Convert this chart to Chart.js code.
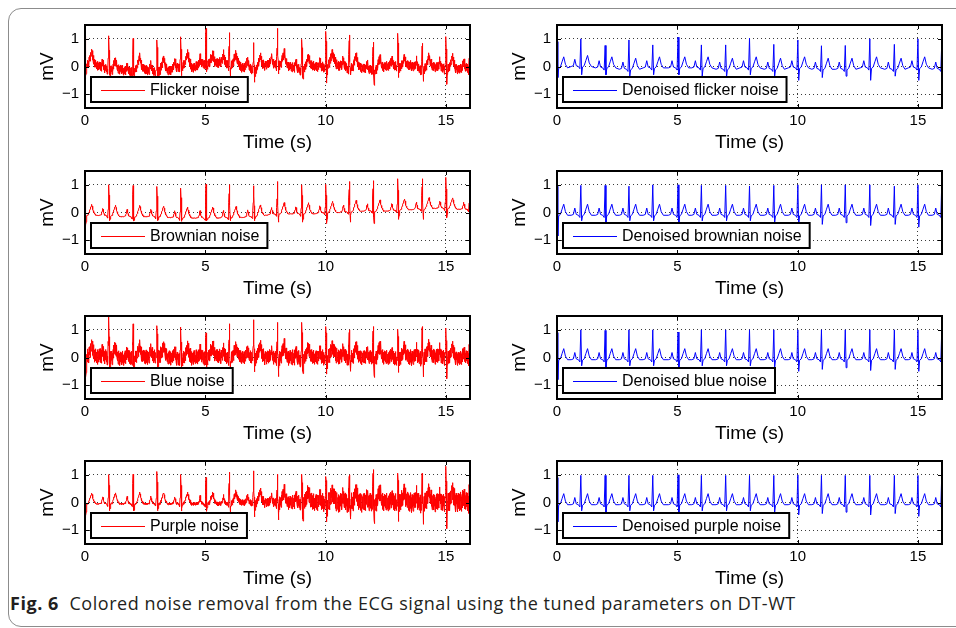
<!DOCTYPE html>
<html>
<head>
<meta charset="utf-8">
<script src="https://cdn.jsdelivr.net/npm/chart.js@4.4.1/dist/chart.umd.min.js"></script>
<style>
  body { margin: 0; background: #fff; width: 956px; height: 628px; overflow: hidden; position: relative; }
  .frame { position: absolute; left: 8px; top: 8px; width: 990px; height: 619px; border: 1.5px solid #8c8c8c; border-radius: 13px; box-sizing: border-box; }
  canvas { position: absolute; }
  .caption { position: absolute; left: 10px; top: 591px; font-family: "Open Sans", sans-serif; font-size: 18px; letter-spacing: 0.55px; color: #231f20; white-space: nowrap; }
</style>
</head>
<body>
<div class="frame"></div>
<canvas id="c0" width="460" height="139"></canvas>
<canvas id="c1" width="460" height="139"></canvas>
<canvas id="c2" width="460" height="139"></canvas>
<canvas id="c3" width="460" height="139"></canvas>
<canvas id="c4" width="460" height="139"></canvas>
<canvas id="c5" width="460" height="139"></canvas>
<canvas id="c6" width="460" height="139"></canvas>
<canvas id="c7" width="460" height="139"></canvas>
<div class="caption"><b>Fig. 6</b>&nbsp; Colored noise removal from the ECG signal using the tuned parameters on DT-WT</div>
<script>
const xTicks = [0, 5, 10, 15];
const yTicks = [-1, 0, 1];

// R-peak times (s)
const beatTimes = [0.0, 0.99, 2.0, 2.99, 3.98, 5.03, 6.0, 7.01, 8.0, 9.01, 10.01, 10.99, 11.98, 13.0, 14.02, 15.0, 15.99];

// one heartbeat around the R peak: offset (s) and value (mV above baseline)
const beatOffsets = [-0.40, -0.31, -0.25, -0.19, -0.10, -0.04, 0.0, 0.035, 0.07, 0.14, 0.21, 0.28, 0.35, 0.44];
const beatShape   = [0.0, 0.03, 0.26, 0.03, 0.0, -0.08, 1.0, -0.35, -0.02, 0.03, 0.22, 0.4, 0.13, 0.0];
const R_AT = 6, S_AT = 7;

// hand-typed noise wiggle, one value every 0.01 s
const noisePattern = [0.6, -0.4, 0.9, -0.8, 0.2, -0.1, 0.7, -0.9, 0.4, -0.3, 1.0, -0.6, 0.1, -0.7, 0.5, 0.3, -1.0, 0.8, -0.2, 0.0,
  0.6, -0.5, -0.9, 0.7, 0.2, -0.4, 0.9, -0.1, -0.6, 0.4, 0.8, -0.8, 0.3, -0.2, -0.5, 1.0, -0.7, 0.1, 0.5, -0.3, -0.9,
  0.3, 0.7, -0.6, 0.0, 0.9, -0.2, -0.8, 0.5, 0.1, -0.4, 0.8, -1.0, 0.4, 0.2, -0.6, 0.6, -0.1, -0.7, 0.9, -0.3];

// ---- noisy signals (left column) ----
const flickerPeaks = [1.0, 1.02, 0.88, 0.96, 1.02, 1.32, 1.08, 0.72, 1.38, 0.98, 1.27, 1.14, 0.88, 1.2, 0.84, 1.08, 1.0];
const flickerDips = [-0.45, -0.3, -0.3, -0.35, -0.25, -0.2, -0.3, -0.55, -0.2, -0.4, -0.6, -0.3, -0.65, -0.4, -0.45, -0.55, -0.3];
// baseline every 0.25 s
const flickerWander = [0.0, 0.12, 0.05, -0.08, -0.1, -0.18, -0.1, -0.22, -0.15, -0.05, -0.12, -0.18, -0.2, -0.1, -0.15, -0.05,
  0.0, 0.08, -0.05, 0.05, 0.12, 0.05, 0.12, 0.18, 0.05, 0.08, -0.05, 0.0, -0.12, -0.05, 0.05, 0.12,
  0.05, 0.08, 0.0, -0.08, -0.12, -0.05, 0.02, -0.05, 0.0, 0.12, 0.05, 0.0, -0.08, 0.0, -0.05, -0.12,
  -0.12, -0.1, 0.0, 0.05, 0.0, -0.08, 0.05, -0.05, -0.12, -0.05, 0.0, -0.05, -0.08, -0.05, -0.12, -0.05, -0.1];
// noise amplitude per second
const flickerNoise = [0.18, 0.18, 0.17, 0.18, 0.18, 0.19, 0.18, 0.18, 0.18, 0.18, 0.19, 0.18, 0.18, 0.18, 0.18, 0.18, 0.18];

const brownianPeaks = [0.95, 1.0, 0.97, 0.94, 0.88, 1.02, 1.0, 0.96, 1.12, 1.0, 1.02, 1.12, 1.15, 1.22, 1.22, 1.27, 1.27];
const brownianDips = [-0.5, -0.3, -0.3, -0.3, -0.32, -0.3, -0.3, -0.3, -0.35, -0.35, -0.4, -0.35, -0.4, -0.25, -0.25, -0.2, -0.1];
// baseline every 0.5 s
const brownianWander = [-0.1, -0.1, -0.12, -0.15, -0.15, -0.15, -0.15, -0.18, -0.2, -0.2, -0.2, -0.2, -0.18, -0.18, -0.15, -0.1,
  -0.05, -0.05, -0.05, -0.05, 0.0, 0.0, 0.02, 0.05, 0.05, 0.05, 0.08, 0.1, 0.12, 0.15, 0.15, 0.12, 0.1];
const brownianNoise = [0.008, 0.008, 0.008, 0.008, 0.008, 0.008, 0.008, 0.008, 0.008, 0.008, 0.008, 0.008, 0.008, 0.008, 0.008, 0.008, 0.008];

const blueNPeaks = [0.3, 1.35, 1.0, 1.15, 1.02, 0.81, 1.02, 1.15, 1.27, 1.27, 1.12, 1.0, 1.12, 1.02, 1.12, 1.06, 1.06];
const blueNDips = [-0.9, -0.45, -0.4, -0.45, -0.4, -0.45, -0.5, -0.45, -0.6, -0.5, -0.6, -0.5, -0.65, -0.5, -0.55, -0.6, -0.45];
const blueNWander = [0.0, 0.05, 0.0, -0.05, 0.0, 0.0, 0.05, 0.0, -0.05, 0.0, 0.0, 0.05, 0.0, 0.0, 0.05, 0.0,
  0.0, 0.0, -0.05, 0.0, 0.0, 0.05, 0.0, 0.0, 0.0, 0.0, -0.05, 0.0, 0.0, 0.05, 0.0, -0.05, 0.0];
const blueNNoise = [0.3, 0.28, 0.27, 0.27, 0.28, 0.27, 0.25, 0.27, 0.29, 0.27, 0.29, 0.27, 0.27, 0.29, 0.29, 0.27, 0.29];

const purplePeaks = [0.85, 1.0, 1.0, 1.12, 1.0, 0.88, 1.0, 1.0, 1.02, 1.02, 0.94, 1.0, 1.19, 1.06, 1.02, 1.31, 1.31];
const purpleDips = [-0.55, -0.3, -0.3, -0.3, -0.3, -0.32, -0.35, -0.5, -0.55, -0.6, -0.7, -0.6, -0.65, -0.6, -0.6, -0.7, -0.5];
const purpleWander = [-0.05, -0.05, -0.05, -0.05, -0.05, -0.05, -0.05, -0.05, -0.05, -0.05, -0.05, -0.05, -0.03, 0.0, 0.0, 0.0,
  0.0, 0.0, 0.0, 0.0, 0.0, 0.0, 0.0, 0.0, 0.0, 0.0, 0.0, 0.0, 0.0, 0.0, 0.0, 0.0, 0.0];
const purpleNoise = [0.02, 0.03, 0.03, 0.04, 0.06, 0.08, 0.12, 0.18, 0.26, 0.32, 0.36, 0.36, 0.34, 0.36, 0.34, 0.38, 0.38];

// ---- denoised signals (right column), one baseline value per beat ----
const dFlickerPeaks = [0.9, 1.0, 0.76, 0.96, 0.78, 1.06, 0.78, 0.78, 1.02, 0.8, 0.96, 0.75, 0.76, 1.0, 0.8, 1.0, 0.85];
const dFlickerDips = [-0.4, -0.3, -0.3, -0.35, -0.3, -0.3, -0.35, -0.4, -0.3, -0.35, -0.5, -0.4, -0.35, -0.5, -0.35, -0.5, -0.3];
const dFlickerBase = [-0.05, 0.0, -0.05, -0.1, -0.05, -0.05, -0.05, -0.1, -0.05, -0.1, -0.05, -0.1, -0.1, -0.05, -0.1, -0.05, -0.1];

const dBrownianPeaks = [0.95, 0.98, 0.98, 0.95, 1.0, 1.0, 0.98, 0.98, 0.96, 0.98, 1.0, 1.0, 1.0, 1.0, 0.95, 1.0, 1.05];
const dBrownianDips = [-0.85, -0.3, -0.35, -0.3, -0.3, -0.37, -0.3, -0.3, -0.3, -0.37, -0.5, -0.43, -0.37, -0.47, -0.43, -0.53, -0.2];
const dBrownianBase = [-0.1, -0.1, -0.1, -0.1, -0.1, -0.1, -0.1, -0.1, -0.1, -0.1, -0.1, -0.1, -0.1, -0.1, -0.1, -0.1, -0.1];

const dBluePeaks = [0.9, 1.0, 0.98, 1.0, 1.0, 0.92, 1.0, 1.0, 1.0, 1.0, 1.0, 1.0, 1.0, 1.0, 1.0, 1.0, 1.0];
const dBlueDips = [-0.8, -0.3, -0.35, -0.3, -0.3, -0.37, -0.3, -0.3, -0.3, -0.37, -0.5, -0.43, -0.37, -0.47, -0.43, -0.5, -0.2];
const dBlueBase = [-0.08, -0.08, -0.08, -0.08, -0.08, -0.08, -0.08, -0.08, -0.08, -0.08, -0.08, -0.08, -0.08, -0.08, -0.08, -0.08, -0.08];

const dPurplePeaks = [0.9, 0.98, 0.98, 0.98, 0.98, 1.0, 0.98, 0.98, 0.98, 0.98, 1.0, 0.98, 0.98, 0.98, 0.98, 0.98, 1.0];
const dPurpleDips = [-0.7, -0.3, -0.35, -0.3, -0.3, -0.35, -0.3, -0.3, -0.3, -0.35, -0.45, -0.4, -0.35, -0.45, -0.4, -0.5, -0.2];
const dPurpleBase = [-0.08, -0.08, -0.08, -0.08, -0.08, -0.08, -0.08, -0.08, -0.08, -0.08, -0.08, -0.08, -0.08, -0.08, -0.08, -0.08, -0.08];

const RED = "#ff0000";
const BLUE = "#0000ff";
const FONT = "'Liberation Sans', Arial, sans-serif";
Chart.defaults.font.family = FONT;

function shapeValue(j, peak, dip, base) {
  if (j === R_AT) return peak - base;
  if (j === S_AT) return dip - base;
  return beatShape[j];
}

function wanderAt(t, arr, step) {
  const p = t / step;
  const i = Math.min(arr.length - 2, Math.floor(p));
  const f = p - i;
  return arr[i] + (arr[i + 1] - arr[i]) * f;
}

function beatAt(t, k, peak, dip, base) {
  const dt = t - beatTimes[k];
  const last = beatOffsets.length - 1;
  if (dt < beatOffsets[0] || dt > beatOffsets[last]) return 0;
  for (let j = 1; j <= last; j++) {
    if (dt <= beatOffsets[j]) {
      const a = shapeValue(j - 1, peak, dip, base);
      const b = shapeValue(j, peak, dip, base);
      const f = (dt - beatOffsets[j - 1]) / (beatOffsets[j] - beatOffsets[j - 1]);
      return a + (b - a) * f;
    }
  }
  return 0;
}

function noisySeries(peaks, dips, wander, step, amp) {
  const pts = [];
  for (let i = 0; i <= 1600; i++) {
    const t = i * 0.01;
    const w = wanderAt(t, wander, step);
    let ecg = 0;
    beatTimes.forEach((bt, k) => {
      const wb = wanderAt(Math.min(16, Math.max(0, bt)), wander, step);
      ecg += beatAt(t, k, peaks[k], dips[k], wb);
    });
    const a = amp[Math.min(amp.length - 1, Math.floor(t))];
    pts.push({ x: t, y: w + ecg + noisePattern[i % noisePattern.length] * a });
  }
  beatTimes.forEach((bt, k) => {
    pts.push({ x: bt, y: peaks[k] });
    pts.push({ x: bt + beatOffsets[S_AT], y: dips[k] });
  });
  pts.sort((p, q) => p.x - q.x);
  return pts;
}

function cleanSeries(peaks, dips, base) {
  const pts = [];
  beatTimes.forEach((bt, k) => {
    beatOffsets.forEach((off, j) => {
      pts.push({ x: bt + off, y: base[k] + shapeValue(j, peaks[k], dips[k], base[k]) });
    });
  });
  return pts;
}

// axes box, inward tick marks and boxed legend in the lower left corner
const framePlugin = {
  id: "frameBox",
  afterDatasetsDraw(chart, args, opts) {
    const { ctx, chartArea: a, scales } = chart;
    ctx.save();
    ctx.strokeStyle = "#000";
    ctx.lineWidth = 1;
    ctx.beginPath();
    xTicks.forEach(v => {
      const px = Math.round(scales.x.getPixelForValue(v)) + 0.5;
      ctx.moveTo(px, a.bottom); ctx.lineTo(px, a.bottom - 4);
      ctx.moveTo(px, a.top); ctx.lineTo(px, a.top + 4);
    });
    yTicks.forEach(v => {
      const py = Math.round(scales.y.getPixelForValue(v)) + 0.5;
      ctx.moveTo(a.left, py); ctx.lineTo(a.left + 4, py);
      ctx.moveTo(a.right, py); ctx.lineTo(a.right - 4, py);
    });
    ctx.stroke();
    ctx.lineWidth = 2;
    ctx.strokeRect(a.left, a.top, a.right - a.left, a.bottom - a.top);

    ctx.font = "16px " + FONT;
    const tw = ctx.measureText(opts.label).width;
    const bx = a.left + 6, bh = 25, by = a.bottom - 6 - bh;
    const bw = 10 + 44 + 5 + tw + 8;
    ctx.fillStyle = "#fff";
    ctx.fillRect(bx, by, bw, bh);
    ctx.strokeRect(bx, by, bw, bh);
    const my = by + bh / 2;
    ctx.strokeStyle = opts.color;
    ctx.lineWidth = 1;
    ctx.beginPath();
    ctx.moveTo(bx + 10, Math.round(my) + 0.5);
    ctx.lineTo(bx + 54, Math.round(my) + 0.5);
    ctx.stroke();
    ctx.fillStyle = "#000";
    ctx.textBaseline = "middle";
    ctx.fillText(opts.label, bx + 59, my + 1);
    ctx.restore();
  }
};

const tickFont = { family: FONT, size: 15 };
const titleFont = { family: FONT, size: 19 };

function makeChart(id, plotLeft, plotTop, label, color, points) {
  const canvas = document.getElementById(id);
  canvas.style.left = (plotLeft - 65) + "px";
  canvas.style.top = (plotTop - 10) + "px";
  return new Chart(canvas, {
    type: "line",
    data: {
      datasets: [{
        label: label,
        data: points,
        borderColor: color,
        borderWidth: 1,
        pointRadius: 0,
        tension: 0,
        fill: false,
      }],
    },
    options: {
      responsive: false,
      animation: false,
      devicePixelRatio: 1,
      layout: { padding: { top: 10, right: 10, left: 0, bottom: 0 } },
      plugins: {
        legend: { display: false },
        tooltip: { enabled: false },
        frameBox: { label: label, color: color },
      },
      scales: {
        x: {
          type: "linear",
          min: 0,
          max: 16,
          afterBuildTicks: ax => { ax.ticks = xTicks.map(v => ({ value: v })); },
          afterFit: ax => { ax.height = 46; ax.paddingLeft = 0; ax.paddingRight = 0; },
          grid: { color: "#3a3a3a", lineWidth: 1, drawTicks: false },
          border: { display: false, dash: [1, 3] },
          ticks: { padding: 4, color: "#000", font: tickFont, maxRotation: 0 },
          title: { display: true, text: "Time (s)", color: "#000", font: titleFont, padding: 0 },
        },
        y: {
          type: "linear",
          min: -1.5,
          max: 1.5,
          afterBuildTicks: ax => { ax.ticks = yTicks.map(v => ({ value: v })); },
          afterFit: ax => { ax.width = 65; ax.paddingTop = 0; ax.paddingBottom = 0; },
          grid: { color: "#3a3a3a", lineWidth: 1, drawTicks: false },
          border: { display: false, dash: [1, 3] },
          ticks: {
            padding: 6,
            color: "#000",
            font: tickFont,
            callback: v => (v < 0 ? "\u2212" + Math.abs(v) : String(v)),
          },
          title: { display: true, text: "mV", color: "#000", font: titleFont, padding: { top: 16, bottom: 0 } },
        },
      },
    },
    plugins: [framePlugin],
  });
}

const rowTops = [25, 171, 316, 461];
const colLefts = [85, 557];

makeChart("c0", colLefts[0], rowTops[0], "Flicker noise", RED, noisySeries(flickerPeaks, flickerDips, flickerWander, 0.25, flickerNoise));
makeChart("c1", colLefts[1], rowTops[0], "Denoised flicker noise", BLUE, cleanSeries(dFlickerPeaks, dFlickerDips, dFlickerBase));
makeChart("c2", colLefts[0], rowTops[1], "Brownian noise", RED, noisySeries(brownianPeaks, brownianDips, brownianWander, 0.5, brownianNoise));
makeChart("c3", colLefts[1], rowTops[1], "Denoised brownian noise", BLUE, cleanSeries(dBrownianPeaks, dBrownianDips, dBrownianBase));
makeChart("c4", colLefts[0], rowTops[2], "Blue noise", RED, noisySeries(blueNPeaks, blueNDips, blueNWander, 0.5, blueNNoise));
makeChart("c5", colLefts[1], rowTops[2], "Denoised blue noise", BLUE, cleanSeries(dBluePeaks, dBlueDips, dBlueBase));
makeChart("c6", colLefts[0], rowTops[3], "Purple noise", RED, noisySeries(purplePeaks, purpleDips, purpleWander, 0.5, purpleNoise));
makeChart("c7", colLefts[1], rowTops[3], "Denoised purple noise", BLUE, cleanSeries(dPurplePeaks, dPurpleDips, dPurpleBase));
</script>
</body>
</html>
